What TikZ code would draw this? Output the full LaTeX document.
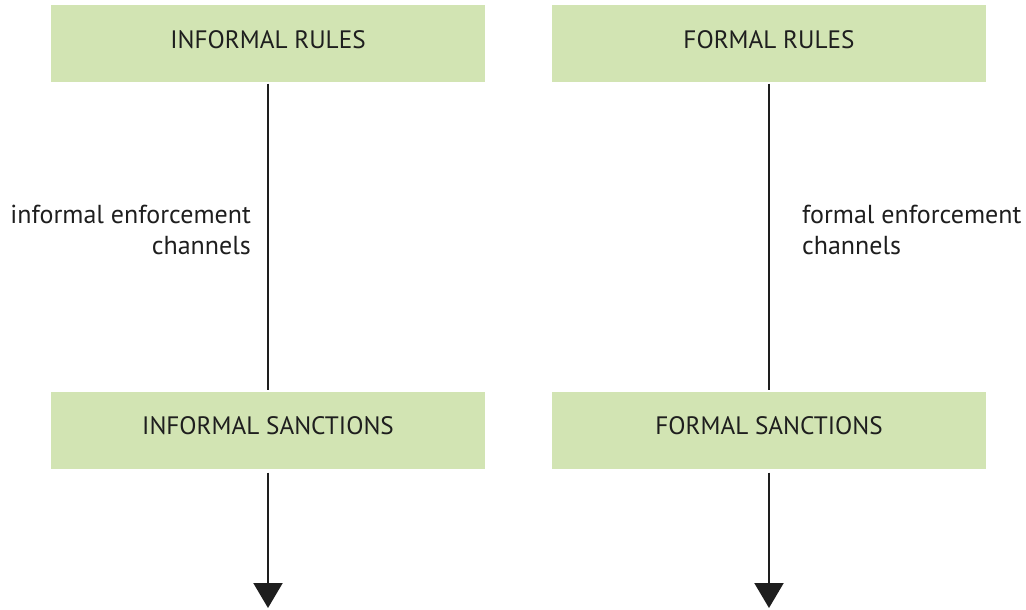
\documentclass[tikz,border=0pt]{standalone}
\usepackage{fontspec}
\setmainfont{PT Sans}
\usepackage{xcolor}
\usetikzlibrary{arrows.meta, positioning}
\definecolor{SageGreen}{HTML}{D2E4B3}
\definecolor{InkGray}{HTML}{1E1E1E}

\begin{document}
\begin{tikzpicture}[x=1pt, y=-1pt, >={Triangle[width=29pt, length=25pt]}, line width=2.2pt, draw=InkGray,
    rulebox/.style={fill=SageGreen, minimum width=434pt, minimum height=77pt, inner sep=0pt,
        text depth=8pt, text=InkGray, font=\fontsize{25.2}{30}\selectfont},
    chanlabel/.style={text=InkGray, font=\fontsize{26}{30.5}\selectfont, inner sep=0pt}]
        \useasboundingbox (0,0) rectangle (1026,610);
        % Boxes
        \node [rulebox] (irules) at (268,44) {INFORMAL RULES};
        \node [rulebox] (frules) at (769,44) {FORMAL RULES};
        \node [rulebox] (isanc) at (268,430) {INFORMAL SANCTIONS};
        \node [rulebox] (fsanc) at (769,430) {FORMAL SANCTIONS};
        % Arrow ends
        \coordinate (iend) at (268,608);
        \coordinate (fend) at (769,608);
        % Enforcement channels
        \draw [InkGray] (irules.south) -- (isanc.north);
        \draw [InkGray] (frules.south) -- (fsanc.north);
        \draw [->, InkGray, shorten <=3pt] (isanc.south) -- (iend);
        \draw [->, InkGray, shorten <=3pt] (fsanc.south) -- (fend);
        % Labels
        \node [chanlabel, align=right, anchor=east] (ilabel) at (252,230) {informal enforcement\\channels};
        \node [chanlabel, align=left, anchor=west] (flabel) at (801,230) {formal enforcement\\channels};
    \end{tikzpicture}
\end{document}
